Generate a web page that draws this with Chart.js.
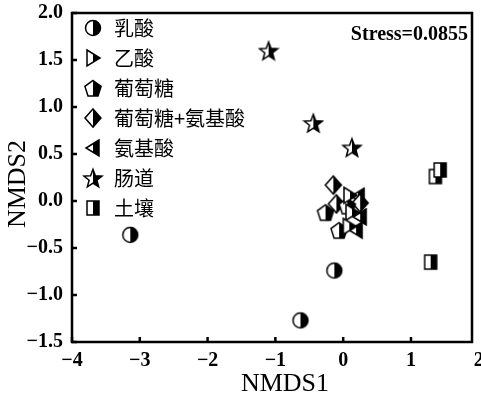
<!DOCTYPE html>
<html><head><meta charset="utf-8">
<script src="https://cdn.jsdelivr.net/npm/chart.js@4/dist/chart.umd.min.js"></script>
<style>html,body{margin:0;padding:0;background:#fff;overflow:hidden}#c{display:block}</style>
</head><body><canvas id="c" width="481" height="398"></canvas>
<script>
// ---- data ----
const seriesNames = ['乳酸', '乙酸', '葡萄糖', '葡萄糖+氨基酸', '氨基酸', '肠道', '土壤'];
const lacticX = [-3.14, -0.13, -0.63];
const lacticY = [-0.36, -0.74, -1.27];
const aceticX = [0.10, 0.13, 0.09];
const aceticY = [0.06, -0.12, -0.27];
const glucoseX = [-0.26, -0.06, 0.06];
const glucoseY = [-0.12, -0.31, -0.05];
const glucoseAminoX = [-0.145, -0.10, 0.25];
const glucoseAminoY = [0.17, -0.03, -0.02];
const aminoX = [0.22, 0.25, 0.19];
const aminoY = [0.05, -0.17, -0.31];
const gutX = [-1.10, -0.44, 0.13];
const gutY = [1.60, 0.83, 0.57];
const soilX = [1.36, 1.43, 1.29];
const soilY = [0.26, 0.33, -0.65];
const xTickValues = [-4, -3, -2, -1, 0, 1, 2];
const yTickValues = [-1.5, -1.0, -0.5, 0.0, 0.5, 1.0, 1.5, 2.0];
const stressLabel = 'Stress=0.0855';

// ---- half-filled marker images ----
function makeMarker(kind) {
  const S = 22, c = document.createElement('canvas');
  c.width = S; c.height = S;
  const g = c.getContext('2d');
  const cx = S / 2, cy = S / 2;
  function path() {
    g.beginPath();
    if (kind === 'circle') {
      g.arc(cx, cy, 7.5, 0, Math.PI * 2);
    } else if (kind === 'triRight') {
      g.moveTo(cx - 6, cy - 8); g.lineTo(cx + 7, cy); g.lineTo(cx - 6, cy + 8); g.closePath();
    } else if (kind === 'triLeft') {
      g.moveTo(cx + 6, cy - 8); g.lineTo(cx - 7, cy); g.lineTo(cx + 6, cy + 8); g.closePath();
    } else if (kind === 'pentagon') {
      for (let i = 0; i < 5; i++) {
        const a = -Math.PI / 2 + i * 2 * Math.PI / 5;
        const px = cx + 8.5 * Math.cos(a), py = cy + 1 + 8.5 * Math.sin(a);
        i ? g.lineTo(px, py) : g.moveTo(px, py);
      }
      g.closePath();
    } else if (kind === 'diamond') {
      g.moveTo(cx, cy - 9); g.lineTo(cx + 8, cy); g.lineTo(cx, cy + 9); g.lineTo(cx - 8, cy); g.closePath();
    } else if (kind === 'star') {
      for (let i = 0; i < 10; i++) {
        const a = -Math.PI / 2 + i * Math.PI / 5;
        const r = i % 2 ? 4.1 : 9.6;
        const px = cx + r * Math.cos(a), py = cy + 1 + r * Math.sin(a);
        i ? g.lineTo(px, py) : g.moveTo(px, py);
      }
      g.closePath();
    } else if (kind === 'square') {
      g.rect(cx - 6, cy - 7, 12, 14);
    }
  }
  path(); g.fillStyle = '#fff'; g.fill();
  g.save(); g.beginPath(); g.rect(cx, 0, S, S); g.clip();
  path(); g.fillStyle = '#000'; g.fill(); g.restore();
  path(); g.lineWidth = 1.5; g.strokeStyle = '#000'; g.lineJoin = 'miter'; g.stroke();
  return c;
}
const markerKinds = ['circle', 'triRight', 'pentagon', 'diamond', 'triLeft', 'star', 'square'];
const xs = [lacticX, aceticX, glucoseX, glucoseAminoX, aminoX, gutX, soilX];
const ys = [lacticY, aceticY, glucoseY, glucoseAminoY, aminoY, gutY, soilY];

const datasets = seriesNames.map((name, i) => ({
  label: name,
  data: xs[i].map((x, j) => ({x: x, y: ys[i][j]})),
  pointStyle: makeMarker(markerKinds[i]),
  pointRadius: 8,
  backgroundColor: '#000',
  borderColor: '#000'
}));

const tickFont = {family: '"Liberation Serif", "Times New Roman", serif', size: 20, weight: 'bold'};
const titleFont = {family: '"Liberation Serif", "Times New Roman", serif', size: 26, weight: 'normal', lineHeight: 1};
const fmt = (v, d) => (v < 0 ? '\u2212' : '') + Math.abs(v).toFixed(d);

const framePlugin = {
  id: 'frame',
  beforeDraw(chart) {
    if (chart.legend) {
      chart.legend.top = chart.chartArea.top - 5;
    }
  },
  afterDraw(chart) {
    const {ctx, chartArea: a, scales} = chart;
    ctx.save();
    ctx.strokeStyle = '#000';
    ctx.lineWidth = 2.5;
    ctx.strokeRect(a.left, a.top, a.right - a.left, a.bottom - a.top);
    ctx.beginPath();
    const tl = 5;
    scales.x.ticks.forEach(t => {
      if (t.value < scales.x.min || t.value > scales.x.max) return;
      const px = scales.x.getPixelForValue(t.value);
      ctx.moveTo(px, a.bottom); ctx.lineTo(px, a.bottom - tl);
    });
    scales.y.ticks.forEach(t => {
      const py = scales.y.getPixelForValue(t.value);
      ctx.moveTo(a.left, py); ctx.lineTo(a.left + tl, py);
    });
    ctx.stroke();
    ctx.fillStyle = '#000';
    ctx.font = 'bold 20px "Liberation Serif", serif';
    ctx.textAlign = 'right';
    ctx.textBaseline = 'alphabetic';
    ctx.fillText(stressLabel, a.right - 4, a.top + 27);
    ctx.restore();
  }
};

new Chart(document.getElementById('c'), {
  type: 'scatter',
  data: {datasets: datasets},
  plugins: [framePlugin],
  options: {
    responsive: false,
    animation: false,
    devicePixelRatio: 1,
    layout: {padding: {top: 13, right: 5, left: 0, bottom: 0}},
    plugins: {
      tooltip: {enabled: false},
      legend: {
        position: 'chartArea',
        align: 'start',
        labels: {
          usePointStyle: true,
          pointStyleWidth: 22,
          padding: 10,
          color: '#000',
          font: {family: '"Noto Sans CJK SC", sans-serif', size: 20}
        }
      }
    },
    scales: {
      x: {
        type: 'linear',
        min: -4, max: 1.9,
        grid: {display: false, drawTicks: false},
        border: {display: false},
        afterBuildTicks: s => { s.ticks = xTickValues.map(v => ({value: v})); },
        afterFit: s => { s.height = 56; s.paddingLeft = 0; s.paddingRight = 0; },
        ticks: {autoSkip: false, maxRotation: 0, padding: 7, color: '#000', font: tickFont,
                callback: v => fmt(v, 0)},
        title: {display: true, text: '\u2002\u2002NMDS1', color: '#000', font: titleFont, padding: {top: 0, bottom: 1}}
      },
      y: {
        type: 'linear',
        min: -1.5, max: 2.0,
        grid: {display: false, drawTicks: false},
        border: {display: false},
        afterBuildTicks: s => { s.ticks = yTickValues.map(v => ({value: v})); },
        afterFit: s => { s.width = 72; s.paddingTop = 0; s.paddingBottom = 0; },
        ticks: {autoSkip: false, padding: 9, color: '#000', font: tickFont,
                callback: v => fmt(v, 1)},
        title: {display: true, text: 'NMDS2\u2002', color: '#000', font: titleFont, padding: {top: 5, bottom: 0}}
      }
    }
  }
});
</script>
</body></html>
